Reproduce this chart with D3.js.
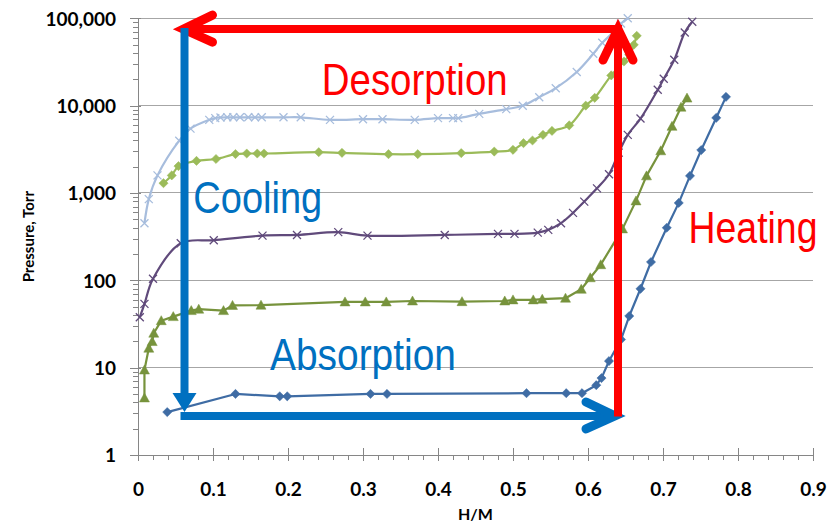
<!DOCTYPE html>
<html><head><meta charset="utf-8">
<script src="https://cdn.jsdelivr.net/npm/d3@7"></script>
<style>body{margin:0;background:#fff}svg{display:block}</style>
</head><body>
<svg id="c" width="838" height="527"></svg>
<script>
// ---------- data ----------
const xTicks = [0,0.1,0.2,0.3,0.4,0.5,0.6,0.7,0.8,0.9];
const xTickLabels = ["0","0.1","0.2","0.3","0.4","0.5","0.6","0.7","0.8","0.9"];
const yTicks = [1,10,100,1000,10000,100000];
const yTickLabels = ["1","10","100","1,000","10,000","100,000"];

// dark blue, diamonds
const blueH = [0.039,0.130,0.189,0.199,0.310,0.332,0.518,0.571,0.592,0.611,0.618,0.628,0.644,0.655,0.670,0.684,0.705,0.721,0.736,0.751,0.771,0.784];
const blueP = [3.1,5.0,4.7,4.7,5.0,5.0,5.1,5.1,5.1,6.3,7.6,11.9,21,39,80,162,400,770,1570,3100,7250,12600];
// olive, triangles
const oliveH = [0.0086,0.0086,0.0144,0.0189,0.021,0.031,0.047,0.071,0.081,0.114,0.126,0.164,0.276,0.303,0.331,0.366,0.432,0.489,0.500,0.527,0.539,0.570,0.591,0.603,0.617,0.646,0.664,0.678,0.697,0.712,0.724,0.732];
const oliveP = [4.5,9.4,16.7,19.9,24.8,34.5,38.4,45,46.7,45,51.6,51.9,56.6,56.6,56.6,58,57,58,59.7,59.7,60.8,62.4,79,107,151,388,812,1570,3040,5800,9600,12200];
// purple, x
const purpleH = [0.0024,0.0086,0.020,0.057,0.101,0.166,0.212,0.267,0.306,0.409,0.480,0.502,0.533,0.547,0.564,0.580,0.595,0.612,0.628,0.641,0.653,0.670,0.693,0.701,0.715,0.729,0.739];
const purpleP = [37.8,53.7,104,266,288,325,331,356,325,331,340,340,352,378,451,592,797,1130,1640,2900,4630,7110,15170,20300,33500,68800,91200];
// light green, diamonds
const greenH = [0.034,0.045,0.054,0.078,0.104,0.130,0.145,0.159,0.168,0.241,0.272,0.334,0.373,0.431,0.475,0.500,0.514,0.526,0.540,0.552,0.575,0.597,0.609,0.631,0.648,0.655,0.661,0.665];
const greenP = [1295,1590,2030,2330,2450,2790,2830,2830,2830,2930,2880,2780,2780,2860,2980,3120,3720,3990,4630,5140,5950,10000,12300,22200,32000,38200,49700,63000];
// light blue, x
const lblueH = [0.0086,0.0144,0.026,0.055,0.070,0.095,0.103,0.110,0.119,0.127,0.136,0.147,0.156,0.165,0.194,0.217,0.256,0.300,0.326,0.369,0.400,0.420,0.427,0.455,0.491,0.513,0.535,0.557,0.585,0.607,0.619,0.634,0.644,0.653];
const lblueP = [451,851,1590,3970,5450,6870,7190,7310,7350,7350,7350,7350,7350,7350,7350,7350,6870,7000,7000,6870,7190,7190,7190,8050,9120,9950,12500,15850,24300,39200,52400,69700,87100,100000];

// annotation anchor values (data coordinates)
const cycleH = [0.062, 0.640];      // left (cooling) and right (heating) H/M
const cycleP = [2.8, 75200];        // bottom (absorption) and top (desorption) pressure
const labelText = ["Desorption","Cooling","Absorption","Heating"];
const labelH = [0.245, 0.0737, 0.176, 0.734];
const labelP = [13300, 587, 9.4, 266];
const labelLen = [186, 129, 186, 129];

// ---------- drawing ----------
const svg = d3.select("#c");
const x = d3.scaleLinear().domain([0,0.9]).range([138,813]);
const y = d3.scaleLog().domain([1,100000]).range([455,18.3]);
const gridCol = "#a6a6a6", axisCol = "#868686";

// gridlines
svg.append("g").selectAll("line").data(yTicks.slice(1)).join("line")
  .attr("x1", x(0)).attr("x2", x(0.9))
  .attr("y1", d=>y(d)).attr("y2", d=>y(d))
  .attr("stroke", gridCol).attr("stroke-width",1).attr("shape-rendering","crispEdges");

// y axis minor ticks
const yMinor = [];
for (let e=0;e<5;e++) for (let m=2;m<=9;m++) yMinor.push(m*Math.pow(10,e));
svg.append("g").selectAll("line").data(yMinor).join("line")
  .attr("x1", x(0)-5).attr("x2", x(0))
  .attr("y1", d=>Math.round(y(d))+0.5).attr("y2", d=>Math.round(y(d))+0.5)
  .attr("stroke", axisCol).attr("stroke-width",1);
// x minor ticks
const xMinor = d3.range(0,0.9001,0.02);
svg.append("g").selectAll("line").data(xMinor).join("line")
  .attr("x1", d=>Math.round(x(d))+0.5).attr("x2", d=>Math.round(x(d))+0.5)
  .attr("y1", y(1)).attr("y2", y(1)+5)
  .attr("stroke", axisCol).attr("stroke-width",1);

// axes
const yAxis = d3.axisLeft(y).tickValues(yTicks).tickFormat((d,i)=>yTickLabels[i]).tickSizeInner(0).tickSizeOuter(0).tickPadding(22);
const gy = svg.append("g").attr("transform",`translate(${x(0)},0)`).call(yAxis);
const xAxis = d3.axisBottom(x).tickValues(xTicks).tickFormat((d,i)=>xTickLabels[i]).tickSizeInner(0).tickSizeOuter(0).tickPadding(28);
const gx = svg.append("g").attr("transform",`translate(0,${y(1)})`).call(xAxis);
[gy,gx].forEach(g=>{
  g.select(".domain").attr("stroke",axisCol).attr("stroke-width",1);
  g.selectAll("text").attr("font-family","Lato, 'Open Sans', sans-serif").attr("font-weight","bold").attr("font-size","19px").attr("fill","#000");
});
gy.selectAll("text").attr("dy","0.36em");
// major crossing ticks
svg.append("g").selectAll("line").data(yTicks).join("line")
  .attr("x1", x(0)-8).attr("x2", x(0)+3)
  .attr("y1", d=>Math.round(y(d))+0.5).attr("y2", d=>Math.round(y(d))+0.5)
  .attr("stroke", axisCol);
svg.append("g").selectAll("line").data(xTicks).join("line")
  .attr("x1", d=>Math.round(x(d))+0.5).attr("x2", d=>Math.round(x(d))+0.5)
  .attr("y1", y(1)-7).attr("y2", y(1)+6)
  .attr("stroke", axisCol);

// axis titles
svg.append("text").attr("x", x(0.45)).attr("y", 520).attr("text-anchor","middle")
  .attr("font-family","Lato, sans-serif").attr("font-weight","bold").attr("font-size","16px").text("H/M");
svg.append("text").attr("transform",`translate(34,${(y(1)+y(100000))/2}) rotate(-90)`).attr("text-anchor","middle")
  .attr("font-family","Lato, sans-serif").attr("font-weight","bold").attr("font-size","15px").text("Pressure,  Torr");

// series
const diamond = "M0,-4.6L4.6,0L0,4.6L-4.6,0Z";
const triangle = "M0,-5L5,4L-5,4Z";
const cross = "M-4,-4L4,4M-4,4L4,-4";
const series = [
  {H:lblueH, P:lblueP, color:"#a7bddd", marker:cross, smooth:true, fillM:false},
  {H:greenH, P:greenP, color:"#9bbb59", marker:diamond, smooth:true, fillM:true},
  {H:purpleH, P:purpleP, color:"#604a7b", marker:cross, smooth:true, fillM:false},
  {H:oliveH, P:oliveP, color:"#77933c", marker:triangle, smooth:false, fillM:true},
  {H:blueH, P:blueP, color:"#3f6ca4", marker:diamond, smooth:false, fillM:true}
];
series.forEach(s=>{
  const pts = s.H.map((h,i)=>[h,s.P[i]]);
  const line = d3.line().x(d=>x(d[0])).y(d=>y(d[1])).curve(s.smooth?d3.curveCatmullRom.alpha(0.5):d3.curveLinear);
  svg.append("path").datum(pts).attr("d",line).attr("fill","none").attr("stroke",s.color).attr("stroke-width",2.2).attr("stroke-linejoin","round");
  svg.append("g").selectAll("path").data(pts).join("path")
    .attr("transform",d=>`translate(${x(d[0])},${y(d[1])})`)
    .attr("d",s.marker)
    .attr("fill", s.fillM? s.color : "none")
    .attr("stroke", s.color).attr("stroke-width", s.fillM?0.5:1.3);
});

// annotations
const red = "#ff0000", blue = "#0070c0";
const xl = x(cycleH[0]), xr = x(cycleH[1]), yb = y(cycleP[0]), yt = y(cycleP[1]);
const ann = svg.append("g");
// red horizontal (desorption) arrow, pointing left
ann.append("line").attr("x1",xr+4).attr("x2",xl-1).attr("y1",yt).attr("y2",yt).attr("stroke",red).attr("stroke-width",8);
ann.append("path").attr("d",`M${xl+28},${yt-14}L${xl-1},${yt}L${xl+28},${yt+13}`).attr("fill","none").attr("stroke",red).attr("stroke-width",9).attr("stroke-linecap","round").attr("stroke-linejoin","miter");
// blue vertical (cooling) arrow, pointing down
ann.append("line").attr("x1",xl).attr("x2",xl).attr("y1",yt-1).attr("y2",yb-22).attr("stroke",blue).attr("stroke-width",8);
ann.append("path").attr("d",`M${xl-12},${yb-23}L${xl+12},${yb-23}L${xl},${yb-4}Z`).attr("fill",blue);
// blue horizontal (absorption) arrow, pointing right
ann.append("line").attr("x1",xl-4).attr("x2",xr-4).attr("y1",yb).attr("y2",yb).attr("stroke",blue).attr("stroke-width",8);
ann.append("path").attr("d",`M${xr-32},${yb-14}L${xr-3},${yb}L${xr-32},${yb+13}`).attr("fill","none").attr("stroke",blue).attr("stroke-width",9).attr("stroke-linecap","round");
// red vertical (heating) arrow, pointing up
ann.append("line").attr("x1",xr).attr("x2",xr).attr("y1",yb+0.5).attr("y2",yt+2).attr("stroke",red).attr("stroke-width",8);
ann.append("path").attr("d",`M${xr-15},${yt+31}L${xr},${yt}L${xr+15},${yt+31}`).attr("fill","none").attr("stroke",red).attr("stroke-width",9).attr("stroke-linecap","round");

// annotation labels (horizontally condensed like the original)
const labelCol = [red, blue, blue, red];
svg.append("g").selectAll("text").data(labelText).join("text")
  .attr("font-family","'Liberation Sans', Arial, sans-serif").attr("font-size","45px")
  .attr("fill",(d,i)=>labelCol[i]).text(d=>d)
  .each(function(d,i){
    const w = this.getComputedTextLength();
    const sx = labelLen[i]/w;
    d3.select(this).attr("transform",`translate(${x(labelH[i])},${y(labelP[i])}) scale(${sx},1)`);
  });
</script>
</body></html>
